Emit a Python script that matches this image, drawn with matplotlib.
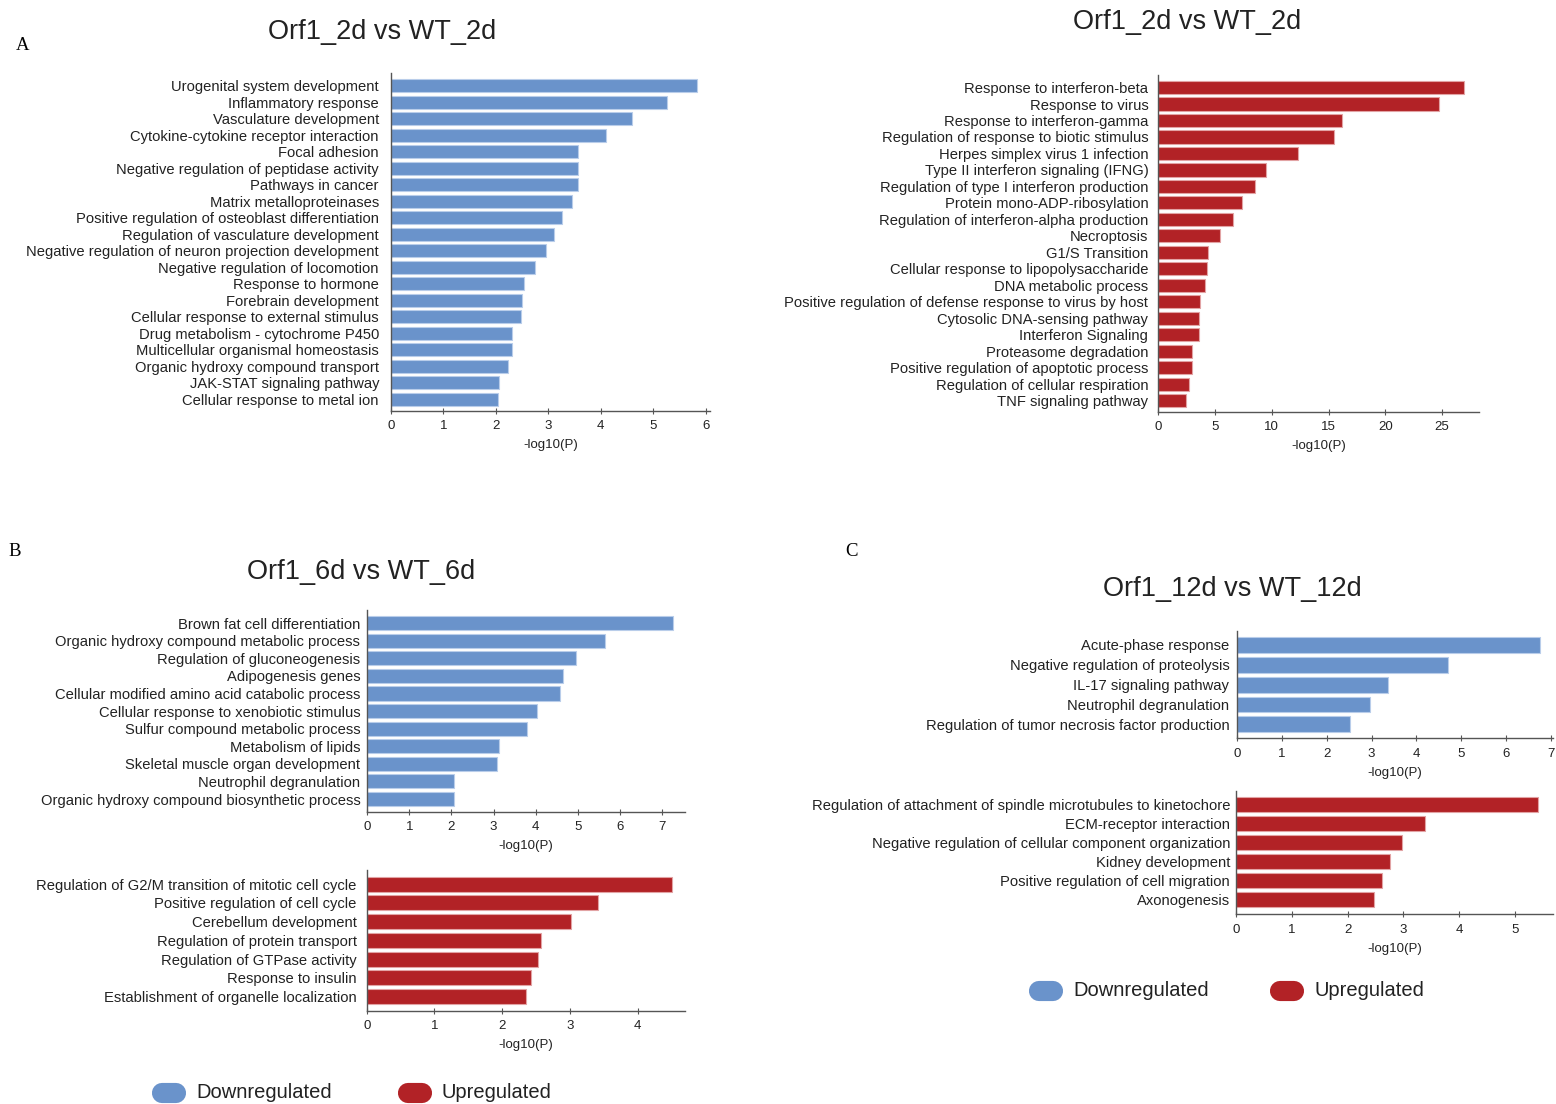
import numpy as np
import matplotlib
matplotlib.use("Agg")
import matplotlib.pyplot as plt
from matplotlib.lines import Line2D

W, H = 1556, 1104
BLUE = "#6a93cb"
RED = "#b22226"
BLUE_EDGE = "#b9cdea"
RED_EDGE = "#e2a3a4"
TEXT = "#222222"
SANS = ["Liberation Sans", "DejaVu Sans"]
NARROW = ["Liberation Sans Narrow", "Liberation Sans", "DejaVu Sans"]

# --- Orf1_2d vs WT_2d, downregulated terms
down_2d_terms = [
    "Urogenital system development", "Inflammatory response", "Vasculature development",
    "Cytokine-cytokine receptor interaction", "Focal adhesion",
    "Negative regulation of peptidase activity", "Pathways in cancer",
    "Matrix metalloproteinases", "Positive regulation of osteoblast differentiation",
    "Regulation of vasculature development",
    "Negative regulation of neuron projection development",
    "Negative regulation of locomotion", "Response to hormone", "Forebrain development",
    "Cellular response to external stimulus", "Drug metabolism - cytochrome P450",
    "Multicellular organismal homeostasis", "Organic hydroxy compound transport",
    "JAK-STAT signaling pathway", "Cellular response to metal ion",
]
down_2d_vals = [5.83, 5.26, 4.59, 4.10, 3.56, 3.56, 3.56, 3.45, 3.26, 3.10,
                2.95, 2.74, 2.53, 2.50, 2.48, 2.30, 2.30, 2.23, 2.06, 2.04]

# --- Orf1_2d vs WT_2d, upregulated terms
up_2d_terms = [
    "Response to interferon-beta", "Response to virus", "Response to interferon-gamma",
    "Regulation of response to biotic stimulus", "Herpes simplex virus 1 infection",
    "Type II interferon signaling (IFNG)", "Regulation of type I interferon production",
    "Protein mono-ADP-ribosylation", "Regulation of interferon-alpha production",
    "Necroptosis", "G1/S Transition", "Cellular response to lipopolysaccharide",
    "DNA metabolic process", "Positive regulation of defense response to virus by host",
    "Cytosolic DNA-sensing pathway", "Interferon Signaling", "Proteasome degradation",
    "Positive regulation of apoptotic process", "Regulation of cellular respiration",
    "TNF signaling pathway",
]
up_2d_vals = [26.9, 24.7, 16.2, 15.5, 12.3, 9.46, 8.5, 7.4, 6.6, 5.4,
              4.4, 4.3, 4.1, 3.7, 3.6, 3.6, 3.0, 3.0, 2.7, 2.45]

# --- Orf1_6d vs WT_6d
down_6d_terms = [
    "Brown fat cell differentiation", "Organic hydroxy compound metabolic process",
    "Regulation of gluconeogenesis", "Adipogenesis genes",
    "Cellular modified amino acid catabolic process",
    "Cellular response to xenobiotic stimulus", "Sulfur compound metabolic process",
    "Metabolism of lipids", "Skeletal muscle organ development",
    "Neutrophil degranulation", "Organic hydroxy compound biosynthetic process",
]
down_6d_vals = [7.27, 5.65, 4.96, 4.65, 4.58, 4.03, 3.80, 3.13, 3.08, 2.06, 2.06]

up_6d_terms = [
    "Regulation of G2/M transition of mitotic cell cycle",
    "Positive regulation of cell cycle", "Cerebellum development",
    "Regulation of protein transport", "Regulation of GTPase activity",
    "Response to insulin", "Establishment of organelle localization",
]
up_6d_vals = [4.51, 3.42, 3.02, 2.58, 2.53, 2.43, 2.35]

# --- Orf1_12d vs WT_12d
down_12d_terms = [
    "Acute-phase response", "Negative regulation of proteolysis",
    "IL-17 signaling pathway", "Neutrophil degranulation",
    "Regulation of tumor necrosis factor production",
]
down_12d_vals = [6.75, 4.70, 3.37, 2.96, 2.52]

up_12d_terms = [
    "Regulation of attachment of spindle microtubules to kinetochore",
    "ECM-receptor interaction",
    "Negative regulation of cellular component organization",
    "Kidney development", "Positive regulation of cell migration", "Axonogenesis",
]
up_12d_vals = [5.41, 3.39, 2.97, 2.76, 2.62, 2.48]


def px_rect(left, top, right, bottom):
    return [left / W, 1 - bottom / H, (right - left) / W, (bottom - top) / H]


def bar_panel(fig, box, terms, vals, color, edge, xmax, xticks, pad_px,
              top_gap=0.75, bottom_gap=0.7, fs=10.6):
    ax = fig.add_axes(px_rect(*box))
    y = np.arange(len(terms))
    ax.barh(y, vals, height=0.8, color=color, edgecolor=edge, linewidth=0.8)
    ax.set_ylim(len(terms) - 1 + bottom_gap, -top_gap)
    ax.set_xlim(0, xmax)
    ax.set_yticks(y)
    ax.set_yticklabels(terms, fontsize=fs, family=SANS, color=TEXT)
    # tick pad is in points; positions were measured in pixels
    ax.tick_params(axis="y", length=0, pad=pad_px * 0.72)
    ax.set_xticks(xticks)
    ax.set_xticklabels([str(t) for t in xticks], fontsize=9.5, family=NARROW, color=TEXT)
    ax.tick_params(axis="x", direction="inout", length=5, width=0.8,
                   color="#555555", pad=4.5)
    ax.set_xlabel("-log10(P)", fontsize=9.5, family=NARROW, color=TEXT, labelpad=5)
    for s in ("top", "right"):
        ax.spines[s].set_visible(False)
    for s in ("left", "bottom"):
        ax.spines[s].set_color("#555555")
        ax.spines[s].set_linewidth(1.0)
    return ax


def legend_row(fig, x_blue, x_red, y, fs=14.5):
    # capsule swatches drawn as thick round-capped lines
    for x0, col, label in ((x_blue, BLUE, "Downregulated"), (x_red, RED, "Upregulated")):
        fig.add_artist(Line2D([(x0 + 10) / W, (x0 + 24) / W], [1 - y / H, 1 - y / H],
                              transform=fig.transFigure, color=col, lw=14.5,
                              solid_capstyle="round"))
        fig.text((x0 + 44) / W, 1 - y / H, label, fontsize=fs, family=SANS,
                 color=TEXT, va="center", ha="left")


fig = plt.figure(figsize=(W / 100, H / 100), dpi=100)

# A: 2 days
bar_panel(fig, (391, 73, 710, 410.6), down_2d_terms, down_2d_vals, BLUE, BLUE_EDGE,
          6.08, list(range(0, 7)), pad_px=12, top_gap=0.77, bottom_gap=0.69)
bar_panel(fig, (1158.3, 75, 1479, 411.7), up_2d_terms, up_2d_vals, RED, RED_EDGE,
          28.26, list(range(0, 30, 5)), pad_px=10, top_gap=0.76, bottom_gap=0.67)

# B: 6 days
bar_panel(fig, (367.3, 610, 685, 811.7), down_6d_terms, down_6d_vals, BLUE, BLUE_EDGE,
          7.55, list(range(0, 8)), pad_px=7, top_gap=0.75, bottom_gap=0.72)
bar_panel(fig, (366.7, 870, 685, 1010.7), up_6d_terms, up_6d_vals, RED, RED_EDGE,
          4.70, list(range(0, 5)), pad_px=10, top_gap=0.75, bottom_gap=0.75)

# C: 12 days
bar_panel(fig, (1237.3, 631, 1553, 738.3), down_12d_terms, down_12d_vals, BLUE, BLUE_EDGE,
          7.05, list(range(0, 8)), pad_px=8, top_gap=0.7, bottom_gap=0.7)
bar_panel(fig, (1236, 791, 1553, 914), up_12d_terms, up_12d_vals, RED, RED_EDGE,
          5.68, list(range(0, 6)), pad_px=6, top_gap=0.72, bottom_gap=0.75)

# panel titles
titles = [("Orf1_2d vs WT_2d", 382, 32), ("Orf1_2d vs WT_2d", 1187, 22),
          ("Orf1_6d vs WT_6d", 361, 572), ("Orf1_12d vs WT_12d", 1232, 589)]
for txt, x, y in titles:
    fig.text(x / W, 1 - y / H, txt, fontsize=19.5, family=SANS, color=TEXT,
             ha="center", va="center")

# panel letters
for txt, x, y in (("A", 23, 45), ("B", 15, 552), ("C", 851, 552)):
    fig.text(x / W, 1 - y / H, txt, fontsize=13.5, family=["Liberation Serif", "DejaVu Serif"],
             color="black", ha="center", va="center")

legend_row(fig, 152, 398, 1093)
legend_row(fig, 1029, 1270, 991)

fig.savefig("out.png", dpi=100, facecolor="white")
